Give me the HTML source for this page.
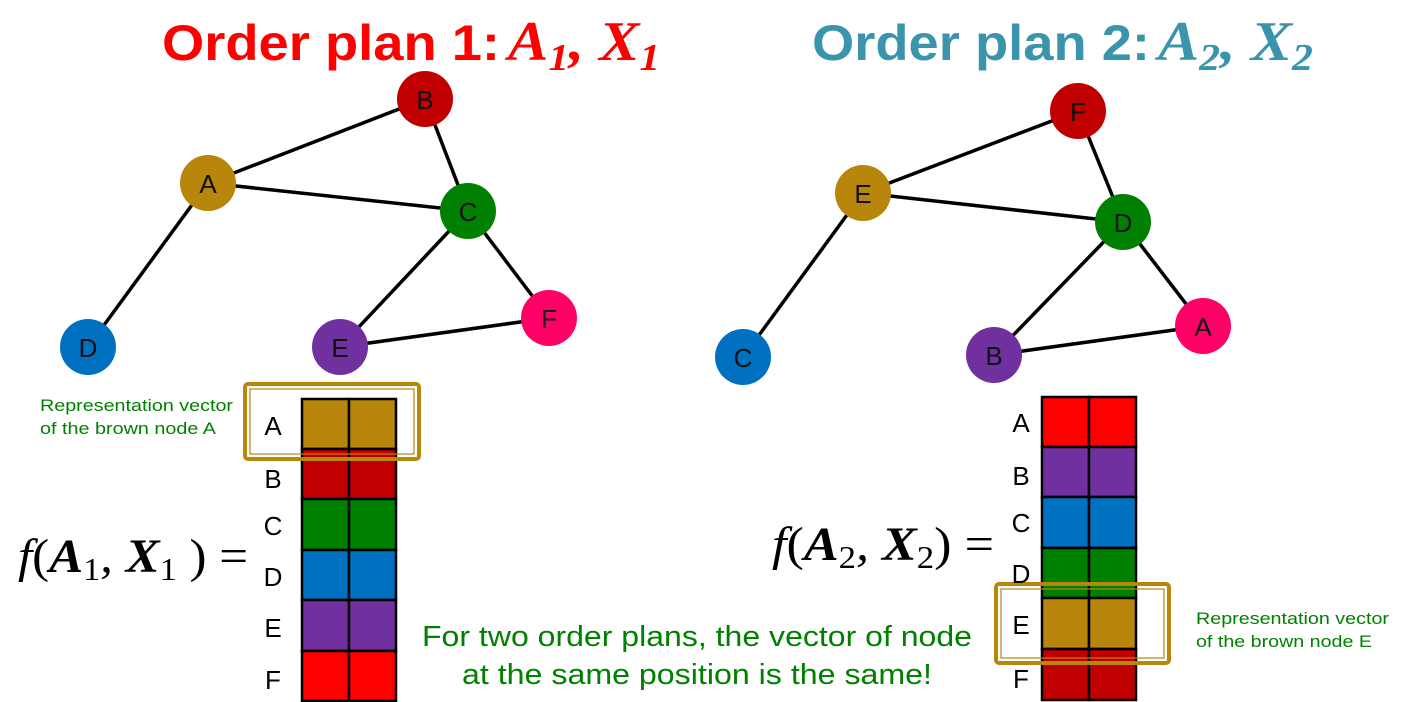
<!DOCTYPE html>
<html><head><meta charset="utf-8"><style>
html,body{margin:0;padding:0;background:#fff}
svg{display:block}
text{font-family:"Liberation Sans",sans-serif}
.s{font-family:"DejaVu Sans","Liberation Sans",sans-serif}
.m{font-family:"Liberation Serif",serif;font-style:italic}
</style></head><body>
<svg width="1405" height="702" viewBox="0 0 1405 702" xmlns="http://www.w3.org/2000/svg">
<!-- titles -->
<text x="162" y="60" font-size="50" font-weight="bold" fill="#ff0000" textLength="338" lengthAdjust="spacingAndGlyphs">Order plan 1:</text>
<text x="508" y="60" font-size="56" font-weight="bold" fill="#ff0000" class="m" textLength="152" lengthAdjust="spacingAndGlyphs">A<tspan font-size="38" dy="10">1</tspan><tspan dy="-10">, X</tspan><tspan font-size="38" dy="10">1</tspan></text>
<text x="812" y="60" font-size="50" font-weight="bold" fill="#3a94ac" textLength="338" lengthAdjust="spacingAndGlyphs">Order plan 2:</text>
<text x="1158" y="60" font-size="56" font-weight="bold" fill="#3a94ac" class="m" textLength="155" lengthAdjust="spacingAndGlyphs">A<tspan font-size="38" dy="10">2</tspan><tspan dy="-10">, X</tspan><tspan font-size="38" dy="10">2</tspan></text>

<g stroke="#000" stroke-width="3.5">
<line x1="208" y1="183" x2="425" y2="99"/><line x1="425" y1="99" x2="468" y2="211"/>
<line x1="208" y1="183" x2="468" y2="211"/><line x1="208" y1="183" x2="88" y2="347"/>
<line x1="468" y1="211" x2="340" y2="347"/><line x1="468" y1="211" x2="549" y2="318"/>
<line x1="340" y1="347" x2="549" y2="318"/>
<line x1="1078" y1="111" x2="863" y2="193"/><line x1="1078" y1="111" x2="1123" y2="222"/>
<line x1="863" y1="193" x2="1123" y2="222"/><line x1="863" y1="193" x2="743" y2="357"/>
<line x1="1123" y1="222" x2="994" y2="355"/><line x1="1123" y1="222" x2="1203" y2="326"/>
<line x1="994" y1="355" x2="1203" y2="326"/>
</g>
<g class="s" font-size="26" text-anchor="middle" fill="#111">
<circle cx="208" cy="183" r="28" fill="#b8860b"/><text x="208" y="193">A</text>
<circle cx="425" cy="99" r="28" fill="#c00000"/><text x="425" y="109">B</text>
<circle cx="468" cy="211" r="28" fill="#008000"/><text x="468" y="221">C</text>
<circle cx="88" cy="347" r="28" fill="#0070c0"/><text x="88" y="357">D</text>
<circle cx="340" cy="347" r="28" fill="#7030a0"/><text x="340" y="357">E</text>
<circle cx="549" cy="318" r="28" fill="#ff0066"/><text x="549" y="328">F</text>
<circle cx="1078" cy="111" r="28" fill="#c00000"/><text x="1078" y="121">F</text>
<circle cx="863" cy="193" r="28" fill="#b8860b"/><text x="863" y="203">E</text>
<circle cx="1123" cy="222" r="28" fill="#008000"/><text x="1123" y="232">D</text>
<circle cx="743" cy="357" r="28" fill="#0070c0"/><text x="743" y="367">C</text>
<circle cx="994" cy="355" r="28" fill="#7030a0"/><text x="994" y="365">B</text>
<circle cx="1203" cy="326" r="28" fill="#ff0066"/><text x="1203" y="336">A</text>
</g>

<g stroke="#000" stroke-width="2.5">
<rect x="302" y="399" width="47" height="50" fill="#b8860b"/><rect x="349" y="399" width="47" height="50" fill="#b8860b"/>
<rect x="302" y="449" width="47" height="50" fill="#c00000"/><rect x="349" y="449" width="47" height="50" fill="#c00000"/>
<rect x="302" y="499" width="47" height="51" fill="#008000"/><rect x="349" y="499" width="47" height="51" fill="#008000"/>
<rect x="302" y="550" width="47" height="50" fill="#0070c0"/><rect x="349" y="550" width="47" height="50" fill="#0070c0"/>
<rect x="302" y="600" width="47" height="51" fill="#7030a0"/><rect x="349" y="600" width="47" height="51" fill="#7030a0"/>
<rect x="302" y="651" width="47" height="50" fill="#ff0000"/><rect x="349" y="651" width="47" height="50" fill="#ff0000"/>
</g>
<rect x="245" y="384" width="174" height="75" rx="3" fill="none" stroke="#b8860b" stroke-width="4"/>
<rect x="250" y="389" width="164" height="65" fill="none" stroke="#b8860b" stroke-width="1.2"/>
<g class="s" font-size="26" text-anchor="middle" fill="#000">
<text x="273" y="435">A</text><text x="273" y="488">B</text><text x="273" y="535">C</text>
<text x="273" y="586">D</text><text x="273" y="637">E</text><text x="273" y="689">F</text>
</g>
<text x="40" y="411" font-size="17" fill="#008000" textLength="193" lengthAdjust="spacingAndGlyphs">Representation vector</text>
<text x="40" y="434" font-size="17" fill="#008000" textLength="176" lengthAdjust="spacingAndGlyphs">of the brown node A</text>
<text x="18" y="572" font-size="48" class="m" fill="#000" textLength="230" lengthAdjust="spacingAndGlyphs">f<tspan font-style="normal">(</tspan><tspan font-weight="bold">A</tspan><tspan font-size="32" font-style="normal" dy="8">1</tspan><tspan dy="-8">, </tspan><tspan font-weight="bold">X</tspan><tspan font-size="32" font-style="normal" dy="8">1</tspan><tspan dy="-8" font-style="normal"> ) =</tspan></text>

<g stroke="#000" stroke-width="2.5">
<rect x="1042" y="397" width="47" height="50" fill="#ff0000"/><rect x="1089" y="397" width="47" height="50" fill="#ff0000"/>
<rect x="1042" y="447" width="47" height="50" fill="#7030a0"/><rect x="1089" y="447" width="47" height="50" fill="#7030a0"/>
<rect x="1042" y="497" width="47" height="51" fill="#0070c0"/><rect x="1089" y="497" width="47" height="51" fill="#0070c0"/>
<rect x="1042" y="548" width="47" height="50" fill="#008000"/><rect x="1089" y="548" width="47" height="50" fill="#008000"/>
<rect x="1042" y="598" width="47" height="51" fill="#b8860b"/><rect x="1089" y="598" width="47" height="51" fill="#b8860b"/>
<rect x="1042" y="649" width="47" height="51" fill="#c00000"/><rect x="1089" y="649" width="47" height="51" fill="#c00000"/>
</g>
<rect x="996" y="584" width="173" height="79" rx="3" fill="none" stroke="#b8860b" stroke-width="4"/>
<rect x="1001" y="589" width="163" height="69" fill="none" stroke="#b8860b" stroke-width="1.2"/>
<g class="s" font-size="26" text-anchor="middle" fill="#000">
<text x="1021" y="432">A</text><text x="1021" y="485">B</text><text x="1021" y="532">C</text>
<text x="1021" y="583">D</text><text x="1021" y="634">E</text><text x="1021" y="688">F</text>
</g>
<text x="1196" y="624" font-size="17" fill="#008000" textLength="193" lengthAdjust="spacingAndGlyphs">Representation vector</text>
<text x="1196" y="647" font-size="17" fill="#008000" textLength="176" lengthAdjust="spacingAndGlyphs">of the brown node E</text>
<text x="772" y="560" font-size="48" class="m" fill="#000" textLength="222" lengthAdjust="spacingAndGlyphs">f<tspan font-style="normal">(</tspan><tspan font-weight="bold">A</tspan><tspan font-size="32" font-style="normal" dy="8">2</tspan><tspan dy="-8">, </tspan><tspan font-weight="bold">X</tspan><tspan font-size="32" font-style="normal" dy="8">2</tspan><tspan dy="-8" font-style="normal">) =</tspan></text>

<text x="697" y="646" font-size="29" fill="#008000" text-anchor="middle" textLength="550" lengthAdjust="spacingAndGlyphs">For two order plans, the vector of node</text>
<text x="697" y="684" font-size="29" fill="#008000" text-anchor="middle" textLength="470" lengthAdjust="spacingAndGlyphs">at the same position is the same!</text>
</svg>
</body></html>
